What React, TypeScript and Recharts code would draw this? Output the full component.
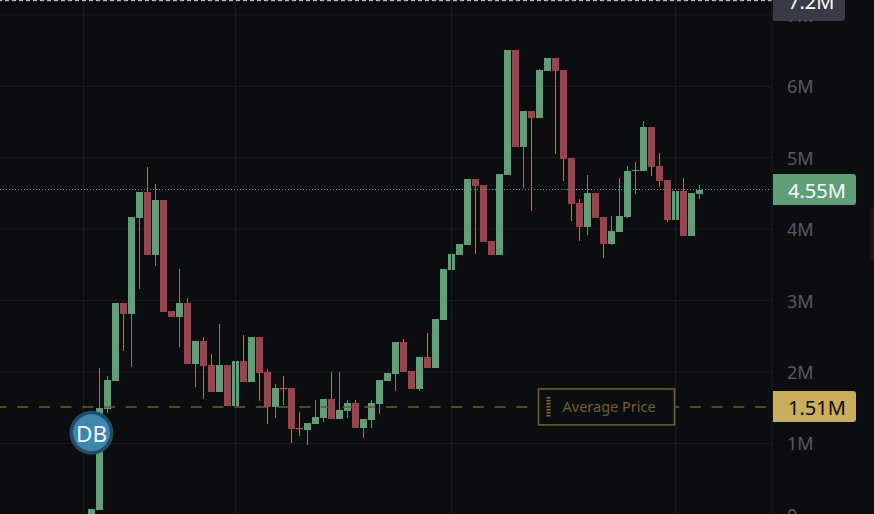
import React from "react";
import { ComposedChart, Bar, XAxis, YAxis, CartesianGrid, ReferenceLine, ReferenceDot } from "recharts";

const opens = [-0.02,0.066,1.48,1.872,2.965,2.811,4.156,4.52,3.637,4.408,2.853,2.769,2.965,2.11,2.433,2.096,1.718,2.096,1.522,2.153,1.858,2.489,1.998,1.508,1.772,1.774,1.212,1.186,1.27,1.354,1.62,1.34,1.452,1.564,1.214,1.326,1.55,1.872,1.97,2.419,2.012,1.76,2.209,2.054,2.727,3.427,3.637,3.777,4.702,4.618,3.833,3.637,4.758,6.508,5.15,5.654,5.556,6.214,6.396,6.228,4.996,4.366,4.029,4.506,4.17,3.791,3.959,4.17,4.821,4.814,5.43,4.884,4.688,4.128,4.534,3.903,4.492];
const closes = [0.08,1.494,1.886,2.965,2.811,4.17,4.52,3.637,4.408,2.839,2.769,2.965,2.11,2.433,2.082,1.718,2.096,1.522,2.153,1.858,2.489,1.984,1.508,1.774,1.768,1.2,1.208,1.284,1.368,1.62,1.34,1.466,1.564,1.214,1.34,1.564,1.886,1.984,2.419,1.998,1.76,2.209,2.054,2.741,3.441,3.651,3.791,4.702,4.604,3.819,3.637,4.772,6.508,5.15,5.654,5.556,6.228,6.396,6.214,4.982,4.352,4.029,4.506,4.156,3.791,3.973,4.184,4.814,4.825,5.43,4.87,4.674,4.128,4.534,3.903,4.506,4.548];
const highs = [0.08,2.054,1.942,2.965,2.965,4.17,4.52,4.87,4.632,4.408,2.853,3.441,3.035,2.433,2.489,2.251,2.671,2.096,2.153,2.517,2.489,2.489,2.04,1.83,1.942,1.774,1.438,1.284,1.606,1.62,1.998,1.998,1.606,1.606,1.34,1.606,1.886,1.984,2.419,2.461,2.012,2.209,2.545,2.741,3.441,3.651,3.791,4.702,4.702,4.618,3.833,4.772,6.508,6.508,5.654,5.654,6.242,6.396,6.396,6.228,4.996,4.422,4.758,4.506,4.17,4.184,4.716,4.884,4.94,5.514,5.43,5.066,4.688,4.646,4.716,4.506,4.618];
const lows = [-0.02,0.066,1.424,1.872,2.293,2.068,3.161,3.637,3.483,2.839,2.769,2.349,2.11,1.788,1.62,1.718,1.718,1.522,1.522,1.858,1.858,1.592,1.27,1.354,1.536,1.004,1.102,0.976,1.27,1.298,1.34,1.34,1.354,1.214,1.074,1.214,1.41,1.872,1.732,1.998,1.76,1.732,2.054,2.054,2.727,2.811,3.637,3.777,3.651,3.819,3.637,3.637,4.758,5.15,4.576,4.254,5.556,6.214,5.052,4.674,4.113,3.833,3.917,4.156,3.595,3.777,3.959,4.156,4.492,4.814,4.744,4.59,4.099,4.043,3.903,3.903,4.422];

const priceTicks = [0, 1, 2, 3, 4, 5, 6, 7];
const sessionTicks = [-1, 18, 45, 73];
const lastPrice = 4.55;
const averagePrice = 1.51;
const topPrice = 7.2;
const badgeIndex = 0;
const badgePrice = 1.148;

const data = opens.map((o, i) => ({
  index: i,
  open: o,
  close: closes[i],
  range: [lows[i], highs[i]] as [number, number],
}));

const BG = "#0c0d0f";
const GRID = "#1b1c1f";
const FONT = "'Noto Sans', sans-serif";

const Candle = (props: any) => {
  const { x, y, width, height, payload } = props;
  const [l, h] = payload.range;
  const k = height / (h - l);
  const up = payload.close >= payload.open;
  const top = Math.round(y + (h - Math.max(payload.open, payload.close)) * k);
  const bot = Math.round(y + (h - Math.min(payload.open, payload.close)) * k);
  const doji = bot - top < 2;
  const body = up ? "#5f9e76" : "#984350";
  const wick = up ? "#3f9a8c" : "#e0575c";
  const cx = x + width / 2;
  return (
    <g shapeRendering="crispEdges">
      <rect x={cx - 0.5} y={y} width={1} height={height} fill={wick} />
      <rect x={x} y={top} width={width} height={doji ? 1 : bot - top} fill={doji ? wick : body} />
    </g>
  );
};

const topPriceTick = 7;

const PriceTick = (props: any) => {
  const { x, y, payload } = props;
  const v = payload.value;
  return (
    <g clipPath={v === topPriceTick ? "url(#belowTopTag)" : undefined}>
      <defs>
        <clipPath id="belowTopTag">
          <rect x={773} y={20} width={101} height={20} />
        </clipPath>
      </defs>
      <text x={x} y={y} dominantBaseline="central" textAnchor="start" fontFamily={FONT} fontSize={18} fill="#575962">
        {v === 0 ? "0" : `${v}M`}
      </text>
    </g>
  );
};

const tag = (text: string, fill: string, color: string, w: number, h: number, dx: number) => (props: any) => {
  const vb = props.viewBox;
  const x = vb.x + vb.width + 1;
  const cy = vb.y;
  const top = Math.round(cy - h / 2);
  const bottom = top + h;
  const r = 3;
  return (
    <g>
      <path
        d={`M${x} ${top}H${x + w - r}Q${x + w} ${top} ${x + w} ${top + r}V${bottom - r}Q${x + w} ${bottom} ${x + w - r} ${bottom}H${x}Z`}
        fill={fill}
      />
      <text x={x + dx} y={cy + 0.5} dominantBaseline="central" fontFamily={FONT} fontSize={20} fill={color}>
        {text}
      </text>
    </g>
  );
};

const averageLabel = (props: any) => {
  const vb = props.viewBox;
  const cy = vb.y;
  const left = 538.5;
  const dashes = [0, 1, 2, 3, 4, 5, 6];
  return (
    <g>
      <rect x={left} y={cy - 18} width={136} height={36} fill={BG} stroke="#6a5b33" strokeWidth={1.6} />
      {dashes.map((d) => (
        <rect key={d} x={left + 8} y={cy - 10 + d * 3} width={4} height={1.6} fill="#7a6a3c" />
      ))}
      <text x={left + 24} y={cy - 0.5} dominantBaseline="central" fontFamily={FONT} fontSize={14.5} fill="#6d5f3a">
        Average Price
      </text>
    </g>
  );
};

const Badge = (props: any) => {
  const { cx, cy } = props;
  return (
    <g>
      <circle cx={cx} cy={cy} r={22} fill="#1e4d68" />
      <circle cx={cx} cy={cy} r={18.5} fill="#3e86ad" />
      <text x={cx} y={cy + 0.5} textAnchor="middle" dominantBaseline="central" fontFamily={FONT} fontSize={22.5} fill="#f2f6f8">
        DB
      </text>
    </g>
  );
};

export default function App() {
  return (
    <div style={{ position: "fixed", left: 0, top: 0, width: 874, height: 514, overflow: "hidden", background: BG }}>
      <ComposedChart width={874} height={530} data={data} margin={{ top: 0, right: 0, bottom: 0, left: 0 }}>
        <CartesianGrid stroke={GRID} strokeWidth={1} vertical={false} />
        <XAxis
          dataKey="index"
          type="number"
          scale="linear"
          domain={[-11.4375, 85.0625]}
          ticks={sessionTicks}
          interval={0}
          height={0}
          tick={false}
          axisLine={false}
          tickLine={false}
        />
        <YAxis
          orientation="right"
          width={102}
          type="number"
          domain={[-0.214, 7.209]}
          ticks={priceTicks}
          interval={0}
          allowDataOverflow
          tickSize={0}
          tickMargin={15}
          axisLine={{ stroke: GRID }}
          tickLine={false}
          tick={<PriceTick />}
        />
        {sessionTicks.map((t) => (
          <ReferenceLine key={t} x={t} stroke={GRID} />
        ))}
        <ReferenceLine y={lastPrice} stroke="#55a57e" strokeDasharray="1 2" shapeRendering="crispEdges" label={tag("4.55M", "#5f9e76", "#ffffff", 83, 31, 15)} />
        <Bar dataKey="range" barSize={7} shape={<Candle />} isAnimationActive={false} />
        <ReferenceLine y={averagePrice} stroke="#6a5b33" strokeWidth={1.5} strokeDasharray="11 10.7" strokeDashoffset={15.7} label={averageLabel} />
        <ReferenceLine y={averagePrice} stroke="none" label={tag("1.51M", "#c9ae5d", "#0c0d0f", 83, 31, 15)} />
        <ReferenceLine y={topPrice} stroke="#d8d8d8" strokeDasharray="4 3" label={tag("7.2M", "#383a46", "#ffffff", 72, 40, 15)} />
        <ReferenceDot x={badgeIndex} y={badgePrice} r={22} shape={<Badge />} />
      </ComposedChart>
      <div
        style={{
          position: "absolute",
          left: 870,
          top: 207,
          width: 10,
          height: 54,
          borderRadius: 4,
          background: "#19191d",
        }}
      />
    </div>
  );
}
